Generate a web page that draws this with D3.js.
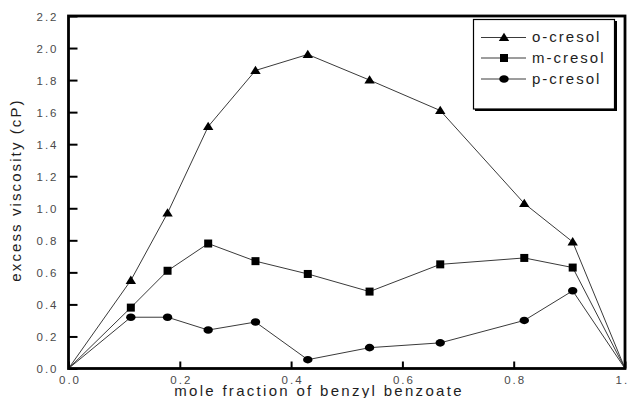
<!DOCTYPE html>
<html>
<head>
<meta charset="utf-8">
<script src="https://cdn.jsdelivr.net/npm/d3@7"></script>
<style>
  html, body { margin: 0; padding: 0; background: #fff; }
  svg { display: block; font-family: "Liberation Sans", Arial, sans-serif; }
</style>
</head>
<body>
<svg id="chart" width="628" height="398"></svg>
<script>
// Mole fraction of benzyl benzoate (x) and excess viscosity (cP) of each cresol mixture
const fractions = [0, 0.112, 0.178, 0.251, 0.336, 0.430, 0.541, 0.668, 0.819, 0.906, 1.0];
const oCresol   = [0, 0.55, 0.97, 1.51, 1.86, 1.96, 1.80, 1.61, 1.03, 0.79, 0];
const mCresol   = [0, 0.38, 0.61, 0.78, 0.67, 0.59, 0.48, 0.65, 0.69, 0.63, 0];
const pCresol   = [0, 0.32, 0.32, 0.24, 0.29, 0.055, 0.13, 0.16, 0.30, 0.485, 0];
const seriesNames = ["o-cresol", "m-cresol", "p-cresol"];
const markerKinds = ["triangle", "square", "circle"];

const xTicks = [0, 0.2, 0.4, 0.6, 0.8, 1.0];
const yTicks = [0, 0.2, 0.4, 0.6, 0.8, 1.0, 1.2, 1.4, 1.6, 1.8, 2.0, 2.2];
const xTitle = "mole fraction of benzyl benzoate";
const yTitle = "excess viscosity (cP)";

const margin = { left: 68.5, right: 3, top: 16, bottom: 29.5 };
const W = 628, H = 398;
const svg = d3.select("#chart");

const x = d3.scaleLinear().domain([0, 1]).range([margin.left, W - margin.right]);
const y = d3.scaleLinear().domain([0, 2.2]).range([H - margin.bottom, margin.top]);
const fmt = d3.format(".1f");

const seriesValues = [oCresol, mCresol, pCresol];
const series = seriesNames.map((name, i) => ({
  name, kind: markerKinds[i],
  points: fractions.map((f, j) => ({ x: f, y: seriesValues[i][j], idx: j }))
}));

// connecting lines
const line = d3.line().x(d => x(d.x)).y(d => y(d.y));
svg.append("g").selectAll("path").data(series).join("path")
  .attr("d", d => line(d.points))
  .attr("fill", "none").attr("stroke", "#3a3a3a").attr("stroke-width", 1);

function drawMarker(g, kind, cx, cy) {
  if (kind === "triangle") {
    g.append("path")
      .attr("d", `M${cx},${cy - 4.8}L${cx + 5.2},${cy + 3.5}L${cx - 5.2},${cy + 3.5}Z`)
      .attr("fill", "#000");
  } else if (kind === "square") {
    g.append("rect").attr("x", cx - 4).attr("y", cy - 4)
      .attr("width", 8).attr("height", 8).attr("fill", "#000");
  } else {
    g.append("ellipse").attr("cx", cx).attr("cy", cy)
      .attr("rx", 4.7).attr("ry", 3.8).attr("fill", "#000");
  }
}

// markers on the measured points (end members carry no symbol)
const markers = svg.append("g");
series.forEach(s => {
  s.points.filter(p => p.idx > 0 && p.idx < fractions.length - 1)
    .forEach(p => drawMarker(markers, s.kind, x(p.x), y(p.y)));
});

// y axis with inward ticks
const yAxis = d3.axisLeft(y).tickValues(yTicks).tickFormat(fmt)
  .tickSizeInner(-9).tickSizeOuter(0).tickPadding(0);
const gy = svg.append("g").attr("transform", `translate(${margin.left},0)`).call(yAxis);
gy.select(".domain").remove();
gy.selectAll(".tick line").attr("stroke", "#000").attr("stroke-width", 2);
gy.selectAll(".tick text")
  .attr("x", -10).attr("dy", "0.36em")
  .attr("fill", "#4a4a4a").style("font-size", "11.5px").style("letter-spacing", "2px");

// x axis with inward ticks
const xAxis = d3.axisBottom(x).tickValues(xTicks).tickFormat(fmt)
  .tickSizeInner(-7).tickSizeOuter(0).tickPadding(0);
const gx = svg.append("g").attr("transform", `translate(0,${H - margin.bottom})`).call(xAxis);
gx.select(".domain").remove();
gx.selectAll(".tick line").attr("stroke", "#000").attr("stroke-width", 2);
gx.selectAll(".tick text")
  .attr("y", 15).attr("dy", 0).attr("dx", "1px")
  .attr("fill", "#4a4a4a").style("font-size", "11.5px").style("letter-spacing", "2px");

// plot frame
svg.append("rect")
  .attr("x", margin.left).attr("y", margin.top)
  .attr("width", x(1) - x(0)).attr("height", y(0) - y(2.2))
  .attr("fill", "none").attr("stroke", "#000").attr("stroke-width", 2.8);

// axis titles
svg.append("text")
  .attr("x", 319).attr("y", 396).attr("text-anchor", "middle")
  .attr("fill", "#1e1e1e").style("font-size", "15px").style("letter-spacing", "2.3px")
  .text(xTitle);
svg.append("text")
  .attr("transform", "translate(21,190) rotate(-90)").attr("text-anchor", "middle")
  .attr("fill", "#1e1e1e").style("font-size", "15px").style("letter-spacing", "2.1px")
  .text(yTitle);

// legend
const lg = svg.append("g");
lg.append("rect").attr("x", 475).attr("y", 21).attr("width", 142).attr("height", 90)
  .attr("fill", "#000");
lg.append("rect").attr("x", 473.5).attr("y", 19.5).attr("width", 141).attr("height", 89.5)
  .attr("fill", "#fff").attr("stroke", "#000").attr("stroke-width", 1.2);
const rowY = [37.5, 58, 79];
series.forEach((s, i) => {
  const ry = rowY[i];
  lg.append("line").attr("x1", 481).attr("x2", 526).attr("y1", ry).attr("y2", ry)
    .attr("stroke", "#3a3a3a").attr("stroke-width", 1);
  drawMarker(lg, s.kind, 504, ry);
  lg.append("text").attr("x", 532).attr("y", ry).attr("dy", "0.33em")
    .attr("fill", "#1e1e1e").style("font-size", "15px").style("letter-spacing", "2px")
    .text(s.name);
});
</script>
</body>
</html>
